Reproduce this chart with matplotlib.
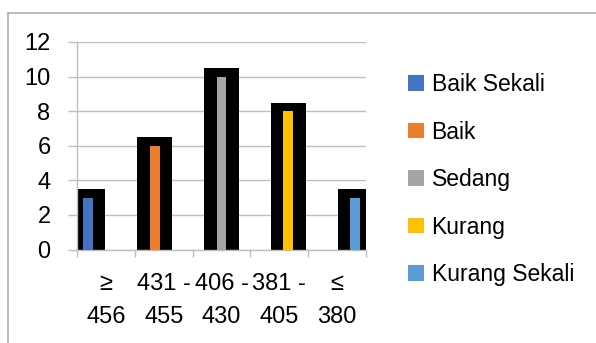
import matplotlib
matplotlib.use("Agg")
import matplotlib.pyplot as plt
from matplotlib.lines import Line2D

plt.rcParams['font.family'] = ['Liberation Sans', 'DejaVu Sans']

# data
categories = ["\u2265\n456", "431 -\n455", "406 -\n430", "381 -\n405", "\u2264\n380"]
series = ["Baik Sekali", "Baik", "Sedang", "Kurang", "Kurang Sekali"]
values = [3, 6, 10, 8, 3]
colors = ["#4472C4", "#ED7D31", "#A5A5A5", "#FFC000", "#5B9BD5"]

grey = "#bfbfbf"
bar_w = 0.17
step = 0.157
shadow_w = 0.6
shadow_pad = 0.5

fig = plt.figure(figsize=(5.96, 3.43), dpi=100)
ax = fig.add_axes([77 / 596, 1 - 249.5 / 343, 289 / 596, 207.5 / 343])

for i, (name, v, c) in enumerate(zip(series, values, colors)):
    x = i + (i - 2) * step
    # thick black frame behind each bar
    ax.bar(x, v + shadow_pad, width=shadow_w, color="black", zorder=2)
    ax.bar(x, v, width=bar_w, color=c, label=name, zorder=3)

ax.set_xlim(-0.5, len(categories) - 0.5)
ax.set_ylim(0, 12)
ax.set_yticks(range(0, 13, 2))
ax.yaxis.grid(True, color=grey, linewidth=1.0)
ax.set_axisbelow(True)

ax.set_xticks([i - 0.5 for i in range(len(categories) + 1)])
ax.set_xticklabels([])
ax.set_xticks(range(len(categories)), minor=True)
ax.set_xticklabels(categories, minor=True, fontsize=17, linespacing=1.65)
ax.tick_params(axis="x", which="major", length=5, color=grey, width=1.0)
ax.tick_params(axis="x", which="minor", length=0, pad=17)
ax.tick_params(axis="y", length=6.5, color=grey, width=1.0, pad=12.5, labelsize=17)

for s in ["top", "right"]:
    ax.spines[s].set_visible(False)
for s in ["left", "bottom"]:
    ax.spines[s].set_color(grey)
    ax.spines[s].set_linewidth(1.0)

fig.legend(loc="upper left", bbox_to_anchor=(408 / 596, 1 - 73 / 343),
           frameon=False, fontsize=16.5, borderpad=0, borderaxespad=0,
           handlelength=0.68, handleheight=0.68, handletextpad=0.35,
           labelspacing=1.07)

# chart area border (cut by the image edges)
fig.add_artist(Line2D([7.6 / 596, 7.6 / 596], [0, 1 - 13 / 343],
                      color="#b0b0b0", linewidth=1.2))
fig.add_artist(Line2D([7.6 / 596, 1], [1 - 13 / 343, 1 - 13 / 343],
                      color="#b0b0b0", linewidth=1.2))

fig.savefig("out.png", dpi=100)
